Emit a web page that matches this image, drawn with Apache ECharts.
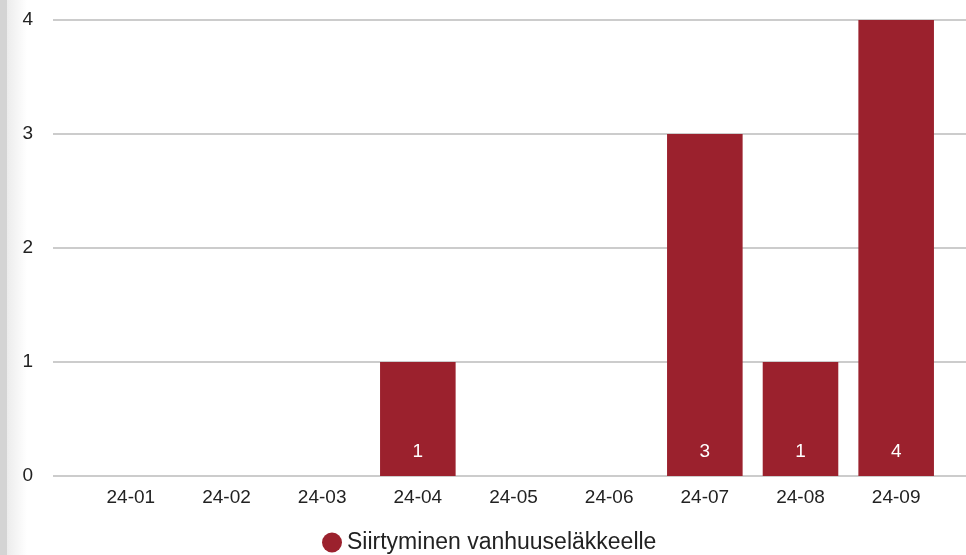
<!DOCTYPE html>
<html><head><meta charset="utf-8">
<script src="https://cdn.jsdelivr.net/npm/echarts@6/dist/echarts.min.js"></script>
<style>html,body{margin:0;padding:0;background:#fff}#c{width:966px;height:555px}</style>
</head><body><div id="c"></div>
<script>
const categories = ['24-01','24-02','24-03','24-04','24-05','24-06','24-07','24-08','24-09'];
const seriesName = 'Siirtyminen vanhuuseläkkeelle';
const values = [0, 0, 0, 1, 0, 0, 3, 1, 4];
const yTicks = [0, 1, 2, 3, 4];

const chart = echarts.init(document.getElementById('c'), null, {renderer:'canvas'});
const font = 'Liberation Sans, Arial, sans-serif';
chart.setOption({
  animation: false,
  graphic: [
    {type:'rect', shape:{x:0,y:0,width:7,height:555}, style:{fill:'#d4d4d4'}},
    {type:'rect', shape:{x:7,y:0,width:20,height:555}, style:{fill:{type:'linear',x:0,y:0,x2:1,y2:0,colorStops:[{offset:0,color:'#ececec'},{offset:1,color:'#ffffff'}]}}}
  ],
  grid: [
    {left:53, right:0, top:20, bottom:79},
    {left:83, right:22, top:20, bottom:79}
  ],
  legend: {
    data:[seriesName], top:531, left:322, itemWidth:20, itemHeight:20, icon:'circle', itemGap:5,
    textStyle:{fontSize:23, color:'#222', fontFamily:font}, padding:0
  },
  xAxis: [
    {type:'category', gridIndex:0, data:categories, show:false},
    {type:'category', gridIndex:1, data:categories,
     axisLine:{lineStyle:{color:'#cccccc', width:2}}, axisTick:{show:false},
     axisLabel:{fontSize:19, color:'#222', fontFamily:font, margin:12}}
  ],
  yAxis: [
    {type:'value', gridIndex:0, min:yTicks[0], max:yTicks[yTicks.length-1], interval:1,
     axisLine:{show:false}, axisTick:{show:false},
     axisLabel:{fontSize:19, color:'#222', fontFamily:font, margin:20},
     splitLine:{lineStyle:{color:'#cccccc', width:2}}},
    {type:'value', gridIndex:1, min:yTicks[0], max:yTicks[yTicks.length-1], interval:1, show:false, splitLine:{show:false}}
  ],
  series: [{
    name: seriesName, type:'bar', xAxisIndex:1, yAxisIndex:1, data: values,
    barCategoryGap:'21%', itemStyle:{color:'#9b212d'},
    label:{show:true, position:'insideBottom', distance:15, color:'#fff', fontSize:19, fontFamily:font,
      formatter: p => p.value > 0 ? p.value : ''}
  }]
});
</script></body></html>
